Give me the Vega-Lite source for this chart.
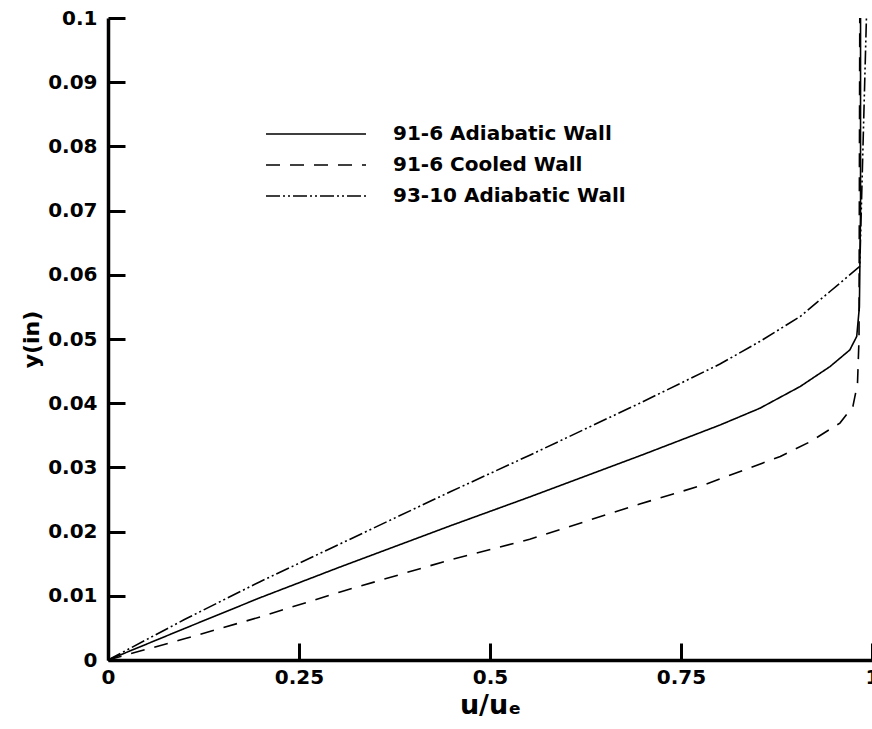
{
  "$schema": "https://vega.github.io/schema/vega-lite/v6.json",
  "width": 764,
  "height": 642,
  "autosize": "none",
  "padding": {"left": 108, "top": 18, "right": 0, "bottom": 69},
  "background": "white",
  "config": {"view": {"stroke": null}, "font": "DejaVu Sans"},
  "data": {"values": [
    {"series": "91-6 Adiabatic Wall", "i": 0, "u": 0, "y": 0},
    {"series": "91-6 Adiabatic Wall", "i": 1, "u": 0.1, "y": 0.0049},
    {"series": "91-6 Adiabatic Wall", "i": 2, "u": 0.199, "y": 0.0097},
    {"series": "91-6 Adiabatic Wall", "i": 3, "u": 0.304, "y": 0.0145},
    {"series": "91-6 Adiabatic Wall", "i": 4, "u": 0.448, "y": 0.0209},
    {"series": "91-6 Adiabatic Wall", "i": 5, "u": 0.552, "y": 0.0254},
    {"series": "91-6 Adiabatic Wall", "i": 6, "u": 0.696, "y": 0.0318},
    {"series": "91-6 Adiabatic Wall", "i": 7, "u": 0.801, "y": 0.0366},
    {"series": "91-6 Adiabatic Wall", "i": 8, "u": 0.853, "y": 0.0392},
    {"series": "91-6 Adiabatic Wall", "i": 9, "u": 0.906, "y": 0.0426},
    {"series": "91-6 Adiabatic Wall", "i": 10, "u": 0.945, "y": 0.0457},
    {"series": "91-6 Adiabatic Wall", "i": 11, "u": 0.971, "y": 0.0483},
    {"series": "91-6 Adiabatic Wall", "i": 12, "u": 0.98, "y": 0.0504},
    {"series": "91-6 Adiabatic Wall", "i": 13, "u": 0.9835, "y": 0.055},
    {"series": "91-6 Adiabatic Wall", "i": 14, "u": 0.985, "y": 0.07},
    {"series": "91-6 Adiabatic Wall", "i": 15, "u": 0.985, "y": 0.1},
    {"series": "91-6 Cooled Wall", "i": 0, "u": 0, "y": 0},
    {"series": "91-6 Cooled Wall", "i": 1, "u": 0.1, "y": 0.0033},
    {"series": "91-6 Cooled Wall", "i": 2, "u": 0.199, "y": 0.0067},
    {"series": "91-6 Cooled Wall", "i": 3, "u": 0.304, "y": 0.0106},
    {"series": "91-6 Cooled Wall", "i": 4, "u": 0.448, "y": 0.0156},
    {"series": "91-6 Cooled Wall", "i": 5, "u": 0.552, "y": 0.0188},
    {"series": "91-6 Cooled Wall", "i": 6, "u": 0.696, "y": 0.0243},
    {"series": "91-6 Cooled Wall", "i": 7, "u": 0.783, "y": 0.0274},
    {"series": "91-6 Cooled Wall", "i": 8, "u": 0.88, "y": 0.0317},
    {"series": "91-6 Cooled Wall", "i": 9, "u": 0.919, "y": 0.034},
    {"series": "91-6 Cooled Wall", "i": 10, "u": 0.958, "y": 0.0369},
    {"series": "91-6 Cooled Wall", "i": 11, "u": 0.975, "y": 0.0395},
    {"series": "91-6 Cooled Wall", "i": 12, "u": 0.981, "y": 0.043},
    {"series": "91-6 Cooled Wall", "i": 13, "u": 0.983, "y": 0.05},
    {"series": "91-6 Cooled Wall", "i": 14, "u": 0.984, "y": 0.1},
    {"series": "93-10 Adiabatic Wall", "i": 0, "u": 0, "y": 0},
    {"series": "93-10 Adiabatic Wall", "i": 1, "u": 0.1, "y": 0.0063},
    {"series": "93-10 Adiabatic Wall", "i": 2, "u": 0.199, "y": 0.0122},
    {"series": "93-10 Adiabatic Wall", "i": 3, "u": 0.304, "y": 0.0181},
    {"series": "93-10 Adiabatic Wall", "i": 4, "u": 0.448, "y": 0.0262},
    {"series": "93-10 Adiabatic Wall", "i": 5, "u": 0.552, "y": 0.0319},
    {"series": "93-10 Adiabatic Wall", "i": 6, "u": 0.696, "y": 0.04},
    {"series": "93-10 Adiabatic Wall", "i": 7, "u": 0.801, "y": 0.0461},
    {"series": "93-10 Adiabatic Wall", "i": 8, "u": 0.853, "y": 0.0496},
    {"series": "93-10 Adiabatic Wall", "i": 9, "u": 0.906, "y": 0.0535},
    {"series": "93-10 Adiabatic Wall", "i": 10, "u": 0.945, "y": 0.0574},
    {"series": "93-10 Adiabatic Wall", "i": 11, "u": 0.965, "y": 0.0594},
    {"series": "93-10 Adiabatic Wall", "i": 12, "u": 0.984, "y": 0.0613},
    {"series": "93-10 Adiabatic Wall", "i": 13, "u": 0.9927, "y": 0.1}
  ]},
  "mark": {"type": "line", "strokeWidth": 1.6, "color": "black"},
  "encoding": {
    "x": {
      "field": "u", "type": "quantitative",
      "scale": {"domain": [0, 1], "nice": false, "zero": false},
      "axis": {
        "values": [0, 0.25, 0.5, 0.75, 1], "format": ".2~f", "grid": false,
        "labelFlush": false, "ticks": true,
        "domainColor": "black", "domainWidth": 3.5,
        "tickColor": "black", "tickWidth": 3, "tickSize": -17, "tickOpacity": 1,
        "labelPadding": 24, "labelFont": "DejaVu Sans", "labelFontWeight": "bold",
        "labelFontSize": 20, "labelColor": "black",
        "title": "u/uₑ", "titleFont": "DejaVu Sans", "titleFontSize": 27,
        "titleFontWeight": "bold", "titleColor": "black", "titlePadding": 5
      }
    },
    "y": {
      "field": "y", "type": "quantitative",
      "scale": {"domain": [0, 0.1], "nice": false, "zero": false},
      "axis": {
        "values": [0, 0.01, 0.02, 0.03, 0.04, 0.05, 0.06, 0.07, 0.08, 0.09, 0.1],
        "format": ".2~f", "grid": false, "labelFlush": false, "ticks": true,
        "domainColor": "black", "domainWidth": 3.5,
        "tickColor": "black", "tickWidth": 3, "tickSize": -17, "tickOpacity": 1,
        "labelPadding": 28, "labelFont": "DejaVu Sans", "labelFontWeight": "bold",
        "labelFontSize": 20, "labelColor": "black",
        "title": "y(in)", "titleFont": "DejaVu Sans", "titleFontSize": 22,
        "titleFontWeight": "bold", "titleColor": "black", "titlePadding": 4
      }
    },
    "strokeDash": {
      "field": "series", "type": "nominal",
      "scale": {
        "domain": ["91-6 Adiabatic Wall", "91-6 Cooled Wall", "93-10 Adiabatic Wall"],
        "range": [[1, 0], [14, 10], [14, 3, 2, 3, 2, 3]]
      },
      "legend": {
        "orient": "none", "legendX": 197, "legendY": 105, "title": null,
        "symbolType": "M-5,0H5", "symbolSize": 400, "symbolStrokeWidth": 1.6,
        "symbolStrokeColor": "black", "symbolFillColor": "transparent",
        "labelFont": "DejaVu Sans", "labelFontSize": 20, "labelFontWeight": "bold",
        "labelColor": "black", "labelOffset": 66, "rowPadding": 10, "padding": 0,
        "labelLimit": 400
      }
    },
    "order": {"field": "i", "type": "quantitative"}
  }
}
